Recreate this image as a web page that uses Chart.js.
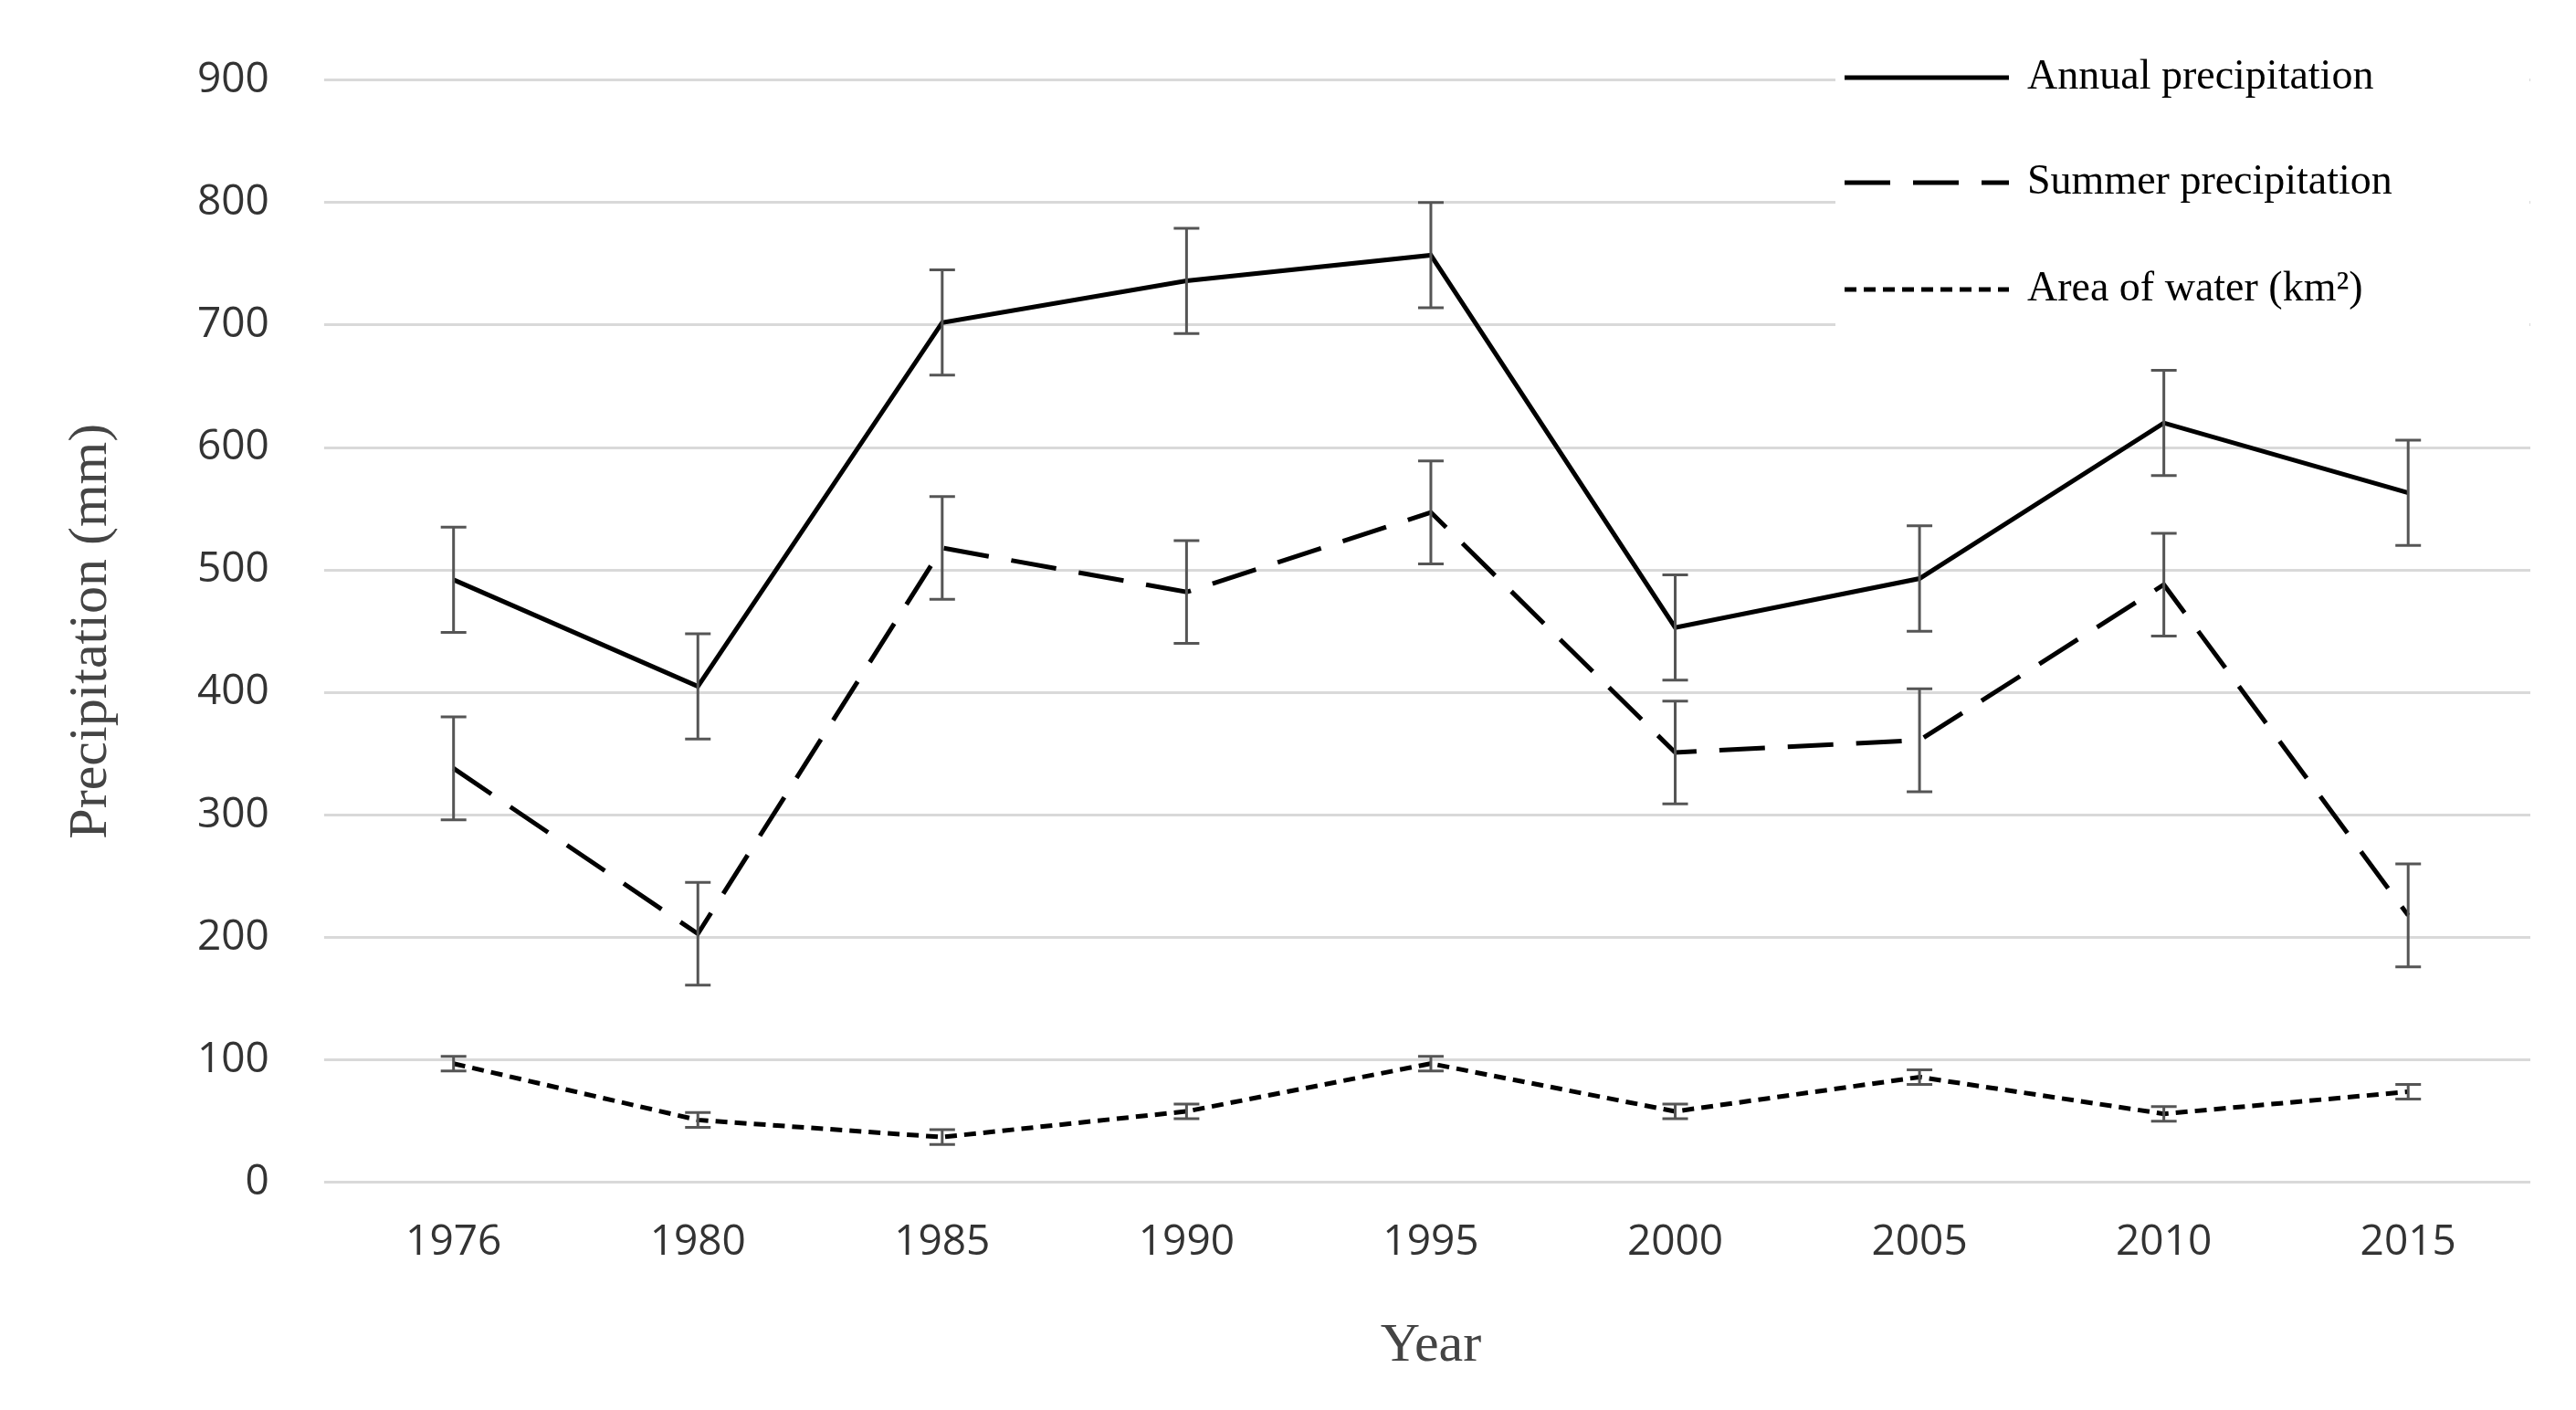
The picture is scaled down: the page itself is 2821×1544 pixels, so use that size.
<!DOCTYPE html>
<html><head><meta charset="utf-8">
<script src="https://cdn.jsdelivr.net/npm/chart.js@4.4.0/dist/chart.umd.min.js"></script>
<style>html,body{margin:0;padding:0;background:#fff}#w{width:2821px;height:1544px}</style>
</head><body><div id="w"><canvas id="c"></canvas></div>
<script>
const years = ['1976','1980','1985','1990','1995','2000','2005','2010','2015'];
const annual = [492, 405, 702, 736, 757, 453, 493, 620, 563];
const annualErr = [43, 43, 43, 43, 43, 43, 43, 43, 43];
const summer = [338, 203, 518, 482, 547, 351, 361, 488, 218];
const summerErr = [42, 42, 42, 42, 42, 42, 42, 42, 42];
const water = [97, 51, 37, 58, 97, 58, 86, 56, 74];
const waterErr = [6, 6, 6, 6, 6, 6, 6, 6, 6];
const legendLabels = ['Annual precipitation', 'Summer precipitation', 'Area of water (km²)'];
const errs = [annualErr, summerErr, waterErr];

const errPlugin = {
  id: 'err',
  afterDatasetsDraw(chart) {
    const ctx = chart.ctx, y = chart.scales.y;
    ctx.save();
    ctx.strokeStyle = '#555'; ctx.lineWidth = 3;
    chart.data.datasets.forEach((ds, i) => {
      const meta = chart.getDatasetMeta(i);
      meta.data.forEach((p, j) => {
        const v = ds.data[j], e = errs[i][j];
        const t = y.getPixelForValue(v + e), b = y.getPixelForValue(v - e);
        ctx.beginPath();
        ctx.moveTo(p.x, t); ctx.lineTo(p.x, b);
        ctx.moveTo(p.x - 14, t); ctx.lineTo(p.x + 14, t);
        ctx.moveTo(p.x - 14, b); ctx.lineTo(p.x + 14, b);
        ctx.stroke();
      });
    });
    // legend
    const x0 = 2020, rows = [85, 200, 317];
    ctx.fillStyle = '#fff';
    ctx.fillRect(x0 - 10, 50, 760, 320);
    ctx.font = '46px "Liberation Serif", "Times New Roman", serif';
    ctx.textBaseline = 'middle';
    chart.data.datasets.forEach((ds, i) => {
      ctx.strokeStyle = '#000'; ctx.lineWidth = ds.borderWidth;
      ctx.setLineDash(ds.borderDash || []);
      ctx.beginPath(); ctx.moveTo(x0, rows[i]); ctx.lineTo(x0 + 180, rows[i]); ctx.stroke();
      ctx.setLineDash([]);
      ctx.fillStyle = '#000';
      ctx.fillText(legendLabels[i], x0 + 200, rows[i]);
    });
    ctx.restore();
  }
};

new Chart(document.getElementById('c'), {
  type: 'line',
  data: {
    labels: years,
    datasets: [
      {data: annual, borderColor: '#000', borderWidth: 5, pointRadius: 0, tension: 0},
      {data: summer, borderColor: '#000', borderWidth: 5, borderDash: [50, 25], pointRadius: 0, tension: 0},
      {data: water, borderColor: '#000', borderWidth: 5, borderDash: [13, 8], pointRadius: 0, tension: 0}
    ]
  },
  options: {
    responsive: true, maintainAspectRatio: false, animation: false,
    layout: {padding: {top: 60, right: 50, left: 60, bottom: 30}},
    plugins: {legend: {display: false}, tooltip: {enabled: false}},
    scales: {
      x: {offset: true, grid: {display: false}, border: {display: false},
          ticks: {color: '#333', font: {size: 46, family: '"Open Sans", sans-serif'}, padding: 30},
          title: {display: true, text: 'Year', color: '#444', font: {size: 60, family: '"Liberation Serif", serif'}, padding: {top: 20}}},
      y: {min: 0, max: 900, grid: {color: '#d9d9d9', lineWidth: 3}, border: {display: false},
          ticks: {stepSize: 100, color: '#333', font: {size: 46, family: '"Open Sans", sans-serif'}, padding: 60},
          title: {display: true, text: 'Precipitation (mm)', color: '#444', font: {size: 60, family: '"Liberation Serif", serif'}, padding: {bottom: 20}}}
    }
  },
  plugins: [errPlugin]
});
</script></body></html>
